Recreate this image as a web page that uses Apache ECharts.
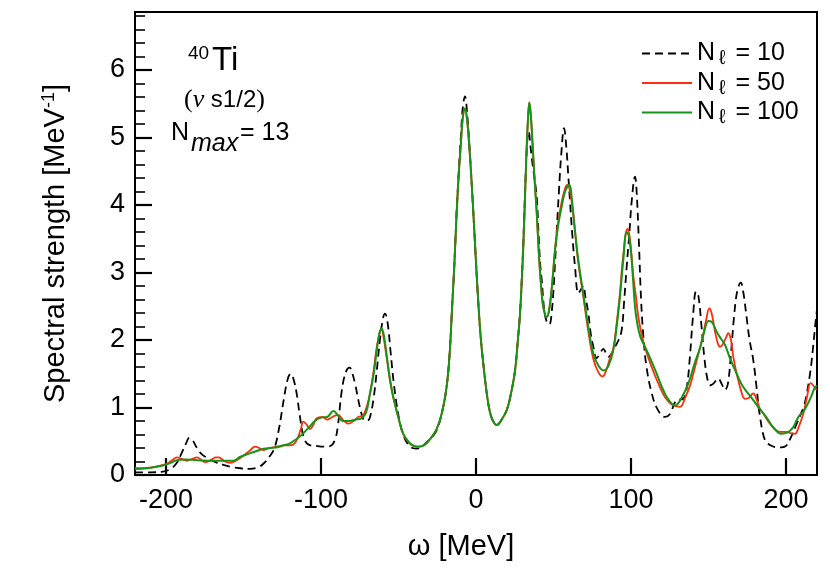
<!DOCTYPE html>
<html>
<head>
<meta charset="utf-8">
<script src="https://cdn.jsdelivr.net/npm/echarts@6/dist/echarts.min.js"></script>
<style>html,body{margin:0;padding:0;background:#fff}#c{width:830px;height:586px}</style>
</head>
<body>
<div id="c"></div>
<script>
// ---- data (omega [MeV], spectral strength [MeV^-1]) ----
const seriesNames = ['N\u2113 = 10', 'N\u2113 = 50', 'N\u2113 = 100'];
const xTickValues = [-200, -100, 0, 100, 200];
const yTickValues = [0, 1, 2, 3, 4, 5, 6];
const yMinorTickValues = [0.2,0.4,0.6,0.8,1.2,1.4,1.6,1.8,2.2,2.4,2.6,2.8,3.2,3.4,3.6,3.8,4.2,4.4,4.6,4.8,5.2,5.4,5.6,5.8,6.2,6.4,6.6,6.8];

const curveN10 = [
[-220,0.04],[-210,0.04],[-202,0.05],[-197,0.09],[-193,0.18],[-190,0.32],[-187,0.47],[-185,0.55],[-183,0.52],[-180,0.40],
[-177,0.31],[-173,0.25],[-168,0.19],[-163,0.15],[-158,0.12],[-152,0.10],[-146,0.09],[-141,0.11],[-137,0.17],[-133,0.28],
[-130,0.40],[-127,0.70],[-124,1.12],[-121.5,1.42],[-119.5,1.50],[-117.5,1.40],[-115.5,1.18],[-113.5,0.85],[-111,0.55],[-108,0.45],
[-103,0.43],[-98,0.42],[-94,0.43],[-91,0.52],[-89,0.75],[-87,1.18],[-85,1.45],[-83,1.57],[-81.5,1.59],[-80,1.52],
[-78,1.35],[-76,1.12],[-74,0.92],[-72.5,0.82],[-70.5,0.80],[-68.5,0.85],[-66,1.15],[-64,1.55],[-62,2.00],[-60,2.32],
[-58.7,2.39],[-57,2.25],[-55,1.80],[-53,1.35],[-50,0.88],[-47,0.60],[-44,0.46],[-41,0.40],[-38,0.39],[-35,0.42],
[-31,0.50],[-28,0.57],[-25,0.68],[-22,0.92],[-19,1.30],[-17,1.80],[-15.5,2.45],[-14,3.10],[-12.5,3.90],[-11,4.55],
[-9.8,5.00],[-8.5,5.45],[-7.1,5.61],[-5.7,5.35],[-4.3,4.90],[-3,4.40],[-1.7,3.88],[0,3.15],[1.5,2.55],[3,2.05],
[4.7,1.65],[7,1.20],[9,0.93],[11,0.80],[13.4,0.74],[16,0.80],[19.8,0.96],[22.5,1.20],[25.2,1.55],[27,2.00],
[28.4,2.40],[30,3.15],[31,3.75],[32,4.40],[33.2,5.00],[34,5.09],[35,4.90],[36.5,4.60],[38,4.35],[39.2,4.12],
[40.5,3.50],[41.5,3.10],[42.4,2.89],[44,2.45],[45.5,2.28],[47.3,2.23],[49,2.45],[50,2.75],[51,3.15],[52,3.58],
[53.5,4.20],[55,4.75],[56.8,5.14],[58.3,4.85],[59.5,4.45],[60.6,4.07],[62,3.60],[63.9,3.08],[66,2.69],[67.5,2.74],
[69.2,2.81],[70.5,2.65],[72.5,2.39],[74,2.10],[75.7,1.90],[77.8,1.73],[80,1.80],[82.1,1.87],[84,1.80],[85.4,1.75],
[87.5,1.80],[89.7,1.90],[92,2.00],[94,2.15],[95.5,2.55],[97.2,3.08],[99,3.60],[100.5,4.07],[102.6,4.42],[103.5,4.25],
[105,3.50],[106.5,2.60],[108,2.05],[110,1.60],[113.4,1.21],[117,0.98],[121.9,0.86],[125,0.90],[129.5,1.11],[133.8,1.13],
[136,1.30],[138,1.75],[140,2.35],[142,2.72],[143.5,2.65],[145.5,2.20],[147.5,1.70],[149.5,1.40],[151,1.33],[153,1.35],
[156.3,1.43],[158.5,1.35],[160.6,1.26],[162.5,1.35],[164.5,1.80],[166.5,2.35],[168.5,2.72],[170.8,2.85],[172.5,2.70],[174.5,2.35],
[176.5,2.00],[178.9,1.70],[181,1.30],[183,0.90],[186.5,0.51],[190,0.44],[194,0.41],[197.2,0.41],[200,0.43],[203,0.55],
[206.9,0.76],[209.5,0.90],[212,1.05],[215.5,1.50],[217.5,1.90],[219,2.25],[220,2.45]
];

const curveN50 = [
[-220,0.10],[-210,0.11],[-200,0.16],[-196,0.22],[-193,0.26],[-190,0.24],[-186.6,0.21],[-183,0.24],[-180,0.26],[-177,0.22],
[-174.8,0.19],[-171,0.22],[-168,0.26],[-166,0.26],[-162,0.20],[-158.7,0.18],[-155,0.21],[-150,0.29],[-146,0.36],[-142.6,0.42],
[-139,0.39],[-137,0.37],[-133,0.40],[-128.6,0.42],[-124,0.44],[-120,0.44],[-117,0.47],[-115,0.55],[-113,0.68],[-111.4,0.79],
[-109,0.74],[-107.1,0.68],[-105,0.74],[-102.8,0.84],[-99,0.86],[-96,0.82],[-94,0.84],[-91,0.88],[-88.8,0.89],[-86,0.82],
[-82.4,0.76],[-79,0.80],[-76,0.86],[-73,0.88],[-70,1.05],[-68,1.25],[-66,1.55],[-64,1.90],[-62,2.12],[-60.9,2.15],
[-59.5,2.02],[-57.5,1.72],[-55.5,1.40],[-53.4,1.15],[-50,0.84],[-46.9,0.60],[-43,0.47],[-40,0.43],[-37.2,0.42],[-33,0.45],
[-29,0.55],[-25.4,0.68],[-22,0.92],[-19,1.30],[-17,1.80],[-15.5,2.45],[-14,3.10],[-12.5,3.88],[-11,4.50],[-9.8,4.90],
[-8.5,5.30],[-7.1,5.43],[-5.7,5.25],[-4.3,4.86],[-3,4.40],[-1.7,3.88],[0,3.15],[1.5,2.55],[3,2.05],[4.7,1.65],
[7,1.20],[9,0.93],[11,0.80],[13.4,0.74],[16,0.80],[19.8,0.96],[22.5,1.20],[25.2,1.55],[27,2.00],[28.4,2.39],
[30,3.10],[31,3.70],[32,4.40],[32.7,4.86],[33.6,5.30],[34.4,5.52],[35.3,5.35],[36.6,4.86],[38,4.30],[39.2,3.88],
[40.5,3.30],[41.7,2.89],[43,2.55],[44.5,2.38],[45.5,2.34],[47,2.42],[49,2.80],[51,3.35],[53,3.75],[55.3,4.05],
[57.5,4.25],[58.8,4.30],[60.2,4.25],[62,4.00],[63.5,3.70],[66,3.15],[69.2,2.65],[72.5,2.12],[75.7,1.72],[79,1.52],
[81.7,1.46],[84,1.55],[86,1.70],[88.6,1.88],[91,2.30],[92.9,2.70],[95,3.25],[97.8,3.65],[99,3.55],[100,3.35],
[101.5,2.95],[103.2,2.64],[105,2.30],[108,1.97],[111,1.75],[115,1.50],[118.7,1.30],[122,1.15],[126,1.05],[131.6,1.01],
[135,1.15],[138,1.32],[140.2,1.50],[143,1.75],[146,2.02],[148.5,2.30],[150.5,2.47],[152,2.40],[154,2.15],[156,1.95],
[157.4,1.90],[159,1.93],[161,2.02],[162.8,2.10],[164.5,2.00],[166,1.75],[168.2,1.50],[171,1.25],[173.5,1.13],[176,1.14],
[178.9,1.21],[181,1.12],[183,0.99],[185.4,0.91],[190,0.75],[196,0.64],[200,0.64],[203,0.62],[205.8,0.61],[208,0.70],
[211.2,0.91],[213.5,1.15],[215.9,1.36],[217.5,1.33],[219.8,1.26]
];

const curveN100 = [
[-220,0.09],[-212,0.10],[-202,0.14],[-197,0.18],[-193,0.22],[-188,0.23],[-180,0.22],[-170,0.21],[-163,0.21],[-157,0.21],
[-152,0.27],[-146,0.32],[-141,0.36],[-137,0.39],[-133,0.40],[-128,0.41],[-124,0.44],[-120,0.47],[-116,0.53],[-111.4,0.62],
[-108,0.70],[-104,0.80],[-100,0.85],[-96,0.86],[-92,0.95],[-89,0.88],[-86,0.80],[-82,0.80],[-78,0.82],[-74,0.84],
[-71,0.92],[-68.4,1.21],[-66,1.50],[-64,1.85],[-62.3,2.10],[-60.9,2.17],[-59.3,2.05],[-57.5,1.75],[-55.5,1.42],[-53.4,1.16],
[-50,0.85],[-46.9,0.61],[-43,0.48],[-40,0.43],[-37.2,0.42],[-33,0.45],[-29,0.55],[-25.4,0.68],[-22,0.92],[-19,1.30],
[-17,1.80],[-15.5,2.45],[-14,3.10],[-12.5,3.88],[-11,4.50],[-9.8,4.90],[-8.5,5.30],[-7.1,5.43],[-5.7,5.25],[-4.3,4.86],
[-3,4.40],[-1.7,3.88],[0,3.15],[1.5,2.55],[3,2.05],[4.7,1.65],[7,1.20],[9,0.93],[11,0.80],[13.4,0.74],
[16,0.80],[19.8,0.96],[22.5,1.20],[25.2,1.55],[27,2.00],[28.4,2.39],[30,3.10],[31,3.70],[32,4.40],[32.7,4.86],
[33.6,5.30],[34.4,5.52],[35.3,5.35],[36.6,4.86],[38,4.30],[39.2,3.88],[40.5,3.30],[41.7,2.89],[43,2.55],[44.5,2.38],
[45.5,2.34],[47,2.42],[49,2.80],[51,3.33],[53,3.70],[55.3,3.98],[57.5,4.20],[60.2,4.30],[62,4.05],[63.5,3.70],
[66,3.18],[69.2,2.69],[72.5,2.19],[75.7,1.80],[79,1.62],[82.5,1.55],[85.5,1.62],[88.6,1.85],[91,2.25],[92.9,2.65],
[95,3.18],[97.2,3.60],[98.5,3.55],[100,3.30],[101.3,2.90],[102.6,2.49],[104,2.25],[106,2.05],[109,1.90],[112,1.75],
[116.6,1.50],[120,1.30],[124,1.12],[128.4,1.03],[131,1.08],[135,1.25],[138,1.42],[141,1.65],[144.5,1.88],[147,2.10],
[150,2.28],[152,2.27],[155.3,2.12],[158,2.02],[160.6,1.93],[164,1.72],[168.2,1.50],[172,1.32],[178.9,1.11],[183,0.98],
[187.5,0.85],[192,0.70],[197,0.61],[201,0.63],[204.7,0.71],[207,0.82],[209,0.89],[211.5,0.95],[213.3,1.02],[216,1.15],
[218.7,1.30],[220,1.32]
];

// ---- chart ----
const FONT = "'Liberation Sans', Arial, Helvetica, sans-serif";
const SERIF = "'Liberation Serif', 'DejaVu Serif', serif";
const chart = echarts.init(document.getElementById('c'), null, {renderer: 'canvas'});
const axisLineStyle = {color: '#000', width: 2};

const option = {
  animation: false,
  backgroundColor: '#fff',
  grid: {left: 135, right: 13, top: 12, bottom: 111, show: true, borderColor: '#000', borderWidth: 2, backgroundColor: 'transparent'},
  xAxis: {
    type: 'value', min: -220, max: 220,
    axisLine: {show: true, onZero: false, lineStyle: axisLineStyle},
    axisTick: {show: true, inside: true, length: 17, lineStyle: {color: '#000', width: 2.2}, customValues: xTickValues},
    axisLabel: {customValues: xTickValues, fontSize: 27, color: '#000', fontFamily: FONT, margin: 12},
    splitLine: {show: false},
    name: '\u03c9 [MeV]', nameLocation: 'middle', nameGap: 57,
    nameTextStyle: {fontSize: 29, color: '#000', fontFamily: FONT, padding: [0, 30, 0, 0]}
  },
  yAxis: [{
    type: 'value', min: 0, max: 6.86,
    axisLine: {show: true, onZero: false, lineStyle: axisLineStyle},
    axisTick: {show: true, inside: true, length: 17, lineStyle: {color: '#000', width: 2.2}, customValues: yTickValues},
    axisLabel: {customValues: yTickValues, fontSize: 27, color: '#000', fontFamily: FONT, margin: 10},
    splitLine: {show: false},
    name: 'Spectral strength [MeV{sup|-1}]', nameLocation: 'middle', nameGap: 63,
    nameTextStyle: {fontSize: 29, color: '#000', fontFamily: FONT,
      rich: {sup: {fontSize: 18, fontFamily: FONT, color: '#000', padding: [0, 0, 14, 0]}}}
  }, {
    type: 'value', min: 0, max: 6.86, position: 'left',
    axisLine: {show: false, onZero: false},
    axisTick: {show: true, inside: true, length: 10, lineStyle: {color: '#000', width: 1.6}, customValues: yMinorTickValues},
    axisLabel: {show: false},
    splitLine: {show: false}
  }],
  legend: {
    orient: 'vertical', left: 636, top: 36, itemWidth: 50, itemHeight: 14, itemGap: 2,
    data: seriesNames,
    itemStyle: {opacity: 0},
    formatter: function (name) { return '{n|N}{l|\u2113}{n|' + name.slice(2) + '}'; },
    textStyle: {fontSize: 25, color: '#000', fontFamily: FONT,
      rich: {
        n: {fontSize: 25, fontFamily: FONT, color: '#000'},
        l: {fontSize: 20, fontFamily: FONT, color: '#000', padding: [10, 3, 0, 4]}
      }}
  },
  series: [
    {name: seriesNames[0], type: 'line', data: curveN10, showSymbol: false, symbol: 'none',
     smooth: 0.4, lineStyle: {color: '#000', width: 1.8, type: [8, 5]}, itemStyle: {color: '#000'}, z: 2},
    {name: seriesNames[1], type: 'line', data: curveN50, showSymbol: false, symbol: 'none',
     smooth: 0.4, lineStyle: {color: '#ff2d0a', width: 1.8}, itemStyle: {color: '#ff2d0a'}, z: 3},
    {name: seriesNames[2], type: 'line', data: curveN100, showSymbol: false, symbol: 'none',
     smooth: 0.4, lineStyle: {color: '#179417', width: 2}, itemStyle: {color: '#179417'}, z: 4}
  ],
  graphic: [
    {type: 'text', left: 188, top: 44, style: {text: '40', fontSize: 19, fontFamily: FONT, fill: '#000'}},
    {type: 'text', left: 212, top: 44, style: {text: 'Ti', fontSize: 33, fontFamily: FONT, fill: '#000'}},
    {type: 'text', left: 184, top: 87, style: {
      text: '{p|(}{nu|\u03bd}{s| s1/2}{p|)}', fontSize: 24, fontFamily: FONT, fill: '#000',
      rich: {p: {fontFamily: SERIF, fontSize: 26},
             nu: {fontFamily: SERIF, fontStyle: 'italic', fontSize: 26},
             s: {fontFamily: FONT, fontSize: 24}}}},
    {type: 'text', left: 171, top: 121, style: {text: 'N', fontSize: 25, fontFamily: FONT, fill: '#000'}},
    {type: 'text', left: 191, top: 132, style: {text: 'max', fontSize: 25, fontStyle: 'italic', fontFamily: FONT, fill: '#000'}},
    {type: 'text', left: 240, top: 121, style: {text: '= 13', fontSize: 25, fontFamily: FONT, fill: '#000'}}
  ]
};
chart.setOption(option);
</script>
</body>
</html>
